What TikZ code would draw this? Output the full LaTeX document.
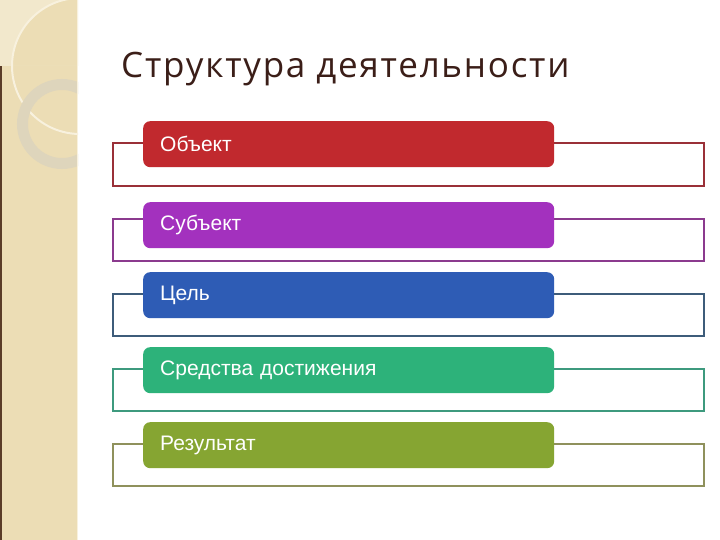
\documentclass[tikz,border=0pt]{standalone}
\usepackage{fontspec}
\setmainfont{Liberation Sans}
\newfontfamily\titlefont[LetterSpace=5]{Open Sans}
\definecolor{stripbeige}{HTML}{ECDDB5}
\definecolor{striplight}{HTML}{F2E8CC}
\definecolor{ringgray}{HTML}{DED5BC}
\definecolor{arccream}{HTML}{F8F1DE}
\definecolor{edgebrown}{HTML}{5A3C28}
\definecolor{titlebrown}{HTML}{3B1E18}
\definecolor{redfill}{HTML}{C1292E}
\definecolor{redline}{HTML}{9A3038}
\definecolor{purplefill}{HTML}{A331BE}
\definecolor{purpleline}{HTML}{8B3A8E}
\definecolor{bluefill}{HTML}{2E5CB5}
\definecolor{blueline}{HTML}{3E5C7A}
\definecolor{greenfill}{HTML}{2DB27A}
\definecolor{greenline}{HTML}{3E9A7E}
\definecolor{olivefill}{HTML}{86A532}
\definecolor{oliveline}{HTML}{8F915C}
\usetikzlibrary{positioning}

\tikzset{
  stepbox/.style={fill=#1, rounded corners=7pt, anchor=north west,
    text width=377pt, inner xsep=17pt, inner ysep=0pt, minimum height=46pt,
    align=left, text=white, font=\fontsize{21}{21}\selectfont},
  frameline/.style={draw=#1, line width=1.6pt},
}

\begin{document}
\begin{tikzpicture}[x=1pt, y=-1pt]
			%%%%% START %%%%%
			
			\useasboundingbox[fill=white] (0, 0) rectangle (720, 540);
			
			% left strip
			\fill[stripbeige] (0, 0) rectangle (78, 540);
			\begin{scope}
				\clip (0, 0) rectangle (78, 66);
				\fill[striplight, even odd rule] (0, 0) rectangle (78, 66) (80, 66) circle (68);
			\end{scope}
			\begin{scope}
				\clip (0, 0) rectangle (78, 540);
				\draw[line width=2pt, color=arccream] (80, 66) circle (68);
				\draw[line width=11pt, color=ringgray] (62, 124) circle (39.5);
			\end{scope}
			\fill[edgebrown] (0, 66) rectangle (1.5, 540);
			\draw[line width=1pt, color=arccream] (77, 0) -- (77, 540);
			
			% title
			\node[anchor=base west, inner sep=0, text=titlebrown, font=\titlefont\fontsize{35}{35}\selectfont] (title) at (121, 78) {Структура деятельности};
			
			% frames
			\draw[frameline=redline] (113, 143) rectangle (704, 186);
			\draw[frameline=purpleline] (113, 219) rectangle (704, 261);
			\draw[frameline=blueline] (113, 294) rectangle (704, 336);
			\draw[frameline=greenline] (113, 369) rectangle (704, 411);
			\draw[frameline=oliveline] (113, 444) rectangle (704, 486);
			
			% boxes
			\node[stepbox=redfill] (object) at (143, 121) {Объект};
			\node[stepbox=purplefill] (subject) at (143, 202) {Субъект};
			\node[stepbox=bluefill] (goal) at (143, 272) {Цель};
			\node[stepbox=greenfill] (means) at (143, 347) {Средства достижения};
			\node[stepbox=olivefill] (result) at (143, 422) {Результат};
			
			%%%%% END %%%%%
\end{tikzpicture}
\end{document}
